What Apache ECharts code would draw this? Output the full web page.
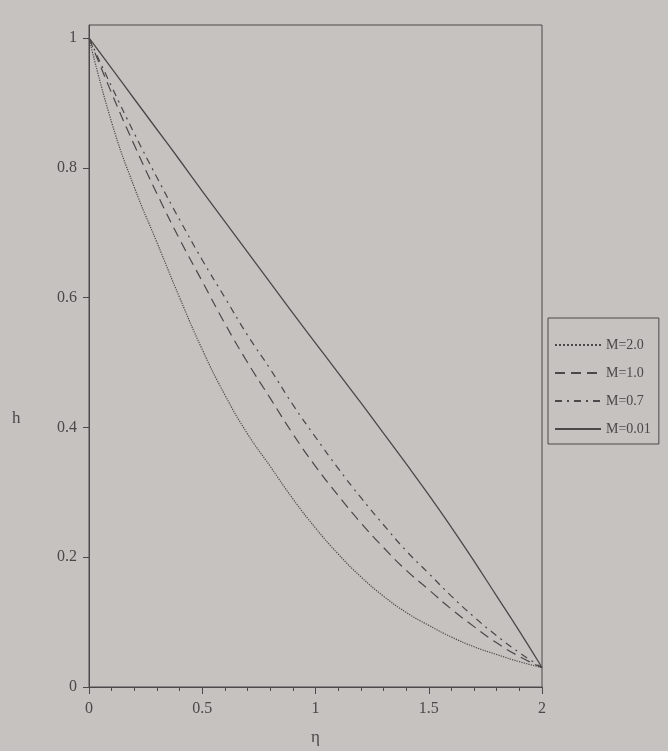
<!DOCTYPE html>
<html>
<head>
<meta charset="utf-8">
<script src="https://cdn.jsdelivr.net/npm/echarts@6/dist/echarts.min.js"></script>
<style>
html,body{margin:0;padding:0;background:#c6c2bf;}
#chart{width:668px;height:751px;}
</style>
</head>
<body>
<div id="chart"></div>
<script>
const eta = [0,0.1,0.2,0.3,0.4,0.5,0.6,0.7,0.8,0.9,1.0,1.1,1.2,1.3,1.4,1.5,1.6,1.7,1.8,1.9,2.0];
const hM20 = [1,0.87,0.77,0.685,0.6,0.52,0.45,0.39,0.34,0.29,0.245,0.205,0.17,0.14,0.115,0.095,0.077,0.062,0.05,0.039,0.03];
const hM10 = [1,0.915,0.835,0.76,0.69,0.625,0.56,0.5,0.445,0.39,0.34,0.295,0.253,0.215,0.18,0.15,0.12,0.093,0.068,0.047,0.03];
const hM07 = [1,0.925,0.853,0.785,0.72,0.658,0.6,0.542,0.49,0.435,0.385,0.337,0.292,0.25,0.21,0.175,0.14,0.108,0.079,0.053,0.03];
const hM001 = [1,0.953,0.906,0.859,0.812,0.764,0.717,0.67,0.623,0.576,0.53,0.484,0.438,0.391,0.344,0.296,0.246,0.194,0.14,0.086,0.03];
const seriesNames = ['M=2.0','M=1.0','M=0.7','M=0.01'];
const xTicks = [0,0.5,1,1.5,2];
const yTicks = [0,0.2,0.4,0.6,0.8,1];

const ink = '#4a4848';
const pair = arr => eta.map((x,i)=>[x,arr[i]]);
const lineTypes = ['dotted',[10,6],[7,5,2,5],'solid'];
const allData = [hM20,hM10,hM07,hM001];

const chart = echarts.init(document.getElementById('chart'));
chart.setOption({
  backgroundColor:'#c6c2bf',
  animation:false,
  textStyle:{fontFamily:'Liberation Serif',color:ink},
  grid:{left:89,right:126,top:25,bottom:63,show:true,borderColor:ink,borderWidth:1,backgroundColor:'transparent'},
  legend:{
    orient:'vertical',left:548,top:318,
    data:seriesNames,
    itemWidth:46,itemHeight:14,itemGap:14,
    padding:[20,8,8,6],
    borderColor:ink,borderWidth:1,
    itemStyle:{opacity:0},
    textStyle:{fontFamily:'Liberation Serif',fontSize:14,color:ink}
  },
  graphic:[{type:'text',left:12,top:410,style:{text:'h',font:'17px "Liberation Serif"',fill:ink}}],
  xAxis:{
    type:'value',min:0,max:2,interval:0.5,
    name:'η',nameLocation:'middle',nameGap:42,
    nameTextStyle:{fontSize:17,color:ink,fontFamily:'Liberation Serif'},
    axisLine:{lineStyle:{color:ink}},
    axisTick:{show:true,length:7,lineStyle:{color:ink}},
    minorTick:{show:true,splitNumber:5,length:4,lineStyle:{color:ink}},
    axisLabel:{fontSize:16,color:ink,margin:14,formatter:v=>xTicks.includes(v)?String(v):''},
    splitLine:{show:false}
  },
  yAxis:{
    type:'value',min:0,max:1.02,interval:0.2,
    axisLine:{lineStyle:{color:ink}},
    axisTick:{show:true,length:6,lineStyle:{color:ink}},
    axisLabel:{fontSize:16,color:ink,margin:12,showMaxLabel:false,
      formatter:v=>{const r=Math.round(v*10)/10;return yTicks.some(t=>Math.abs(t-v)<1e-6)?String(r):'';}},
    splitLine:{show:false}
  },
  series: allData.map((arr,i)=>({
    name:seriesNames[i],type:'line',smooth:true,symbol:'none',
    data:pair(arr),
    lineStyle:{color:ink,width:i===3?1.3:1.2,type:lineTypes[i]},
    itemStyle:{color:ink}
  }))
});
</script>
</body>
</html>
